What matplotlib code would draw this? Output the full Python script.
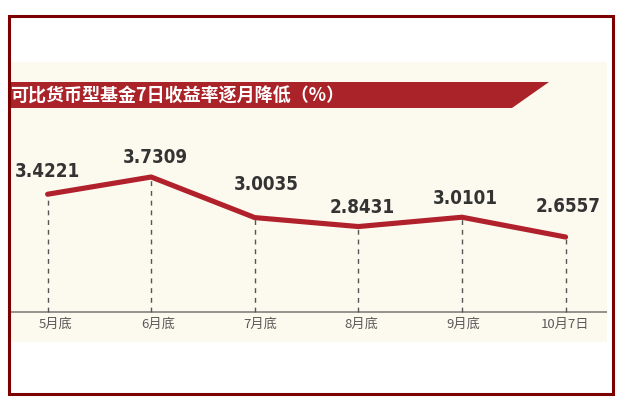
import matplotlib.pyplot as plt
from matplotlib.patches import Rectangle, Polygon

# data
categories = ["5月底", "6月底", "7月底", "8月底", "9月底", "10月7日"]
values = [3.4221, 3.7309, 3.0035, 2.8431, 3.0101, 2.6557]
value_labels = ["3.4221", "3.7309", "3.0035", "2.8431", "3.0101", "2.6557"]
title = "可比货币型基金7日收益率逐月降低（%）"

# layout (pixels)
W, H = 634, 402
label_dx = [0, 4, 11, 4, 3, 3]
label_dy = [24, 21, 34, 20, 20, 32]
tick_dx = [8, 7, 5, 3, 1, -1]
base = 1.31  # value where the x axis line sits

RED = "#b0212b"
CREAM = "#fcf9ee"
FRAME = "#7d0000"

fig = plt.figure(figsize=(W / 100, H / 100), dpi=100)
fig.patch.set_facecolor("white")

# background layer in pixel coordinates
bg = fig.add_axes([0, 0, 1, 1], zorder=0)
bg.set_xlim(0, W)
bg.set_ylim(H, 0)
bg.axis("off")
bg.add_patch(Rectangle((10, 63), 597, 280, facecolor=CREAM, edgecolor="none"))
bg.add_patch(Polygon([(8, 83), (549, 83), (512, 109), (8, 109)],
                     closed=True, facecolor="#a92328", edgecolor="none"))
bg.text(10, 96.5, title, color="white", fontsize=13, fontweight="bold",
        family=["Noto Sans CJK SC", "DejaVu Sans"], ha="left", va="center")

# chart layer
ax = fig.add_axes([10 / W, (H - 343) / H, 597 / W, 280 / H], zorder=1)
ax.set_facecolor("none")
x = list(range(len(values)))
ax.set_xlim(-0.363, 5.40)
ax.set_ylim(0.774, 5.792)
ax.axis("off")

ax.axhline(base, color="#8a8a84", lw=1.3, zorder=1)
ax.vlines(x, base, values, colors="#555555", lw=1.0,
          linestyles=(0, (3.5, 3.5)), zorder=2)
ax.plot(x, values, color=RED, lw=3.7, solid_capstyle="round",
        solid_joinstyle="round", zorder=3)

for i, v in enumerate(values):
    ax.annotate(value_labels[i], (x[i], v), xytext=(label_dx[i], label_dy[i]),
                textcoords="offset pixels", ha="center", va="center",
                fontsize=13.5, fontweight="bold", fontstretch="condensed",
                color="#333333", family=["DejaVu Sans"])
    ax.annotate(categories[i], (x[i], base), xytext=(tick_dx[i], -11),
                textcoords="offset pixels", ha="center", va="center",
                fontsize=9.5, color="#5a5a5a",
                family=["Noto Sans CJK SC", "DejaVu Sans"])

# outer frame on top of everything
fig.add_artist(Rectangle((8.5, 16.5), 604, 378, transform=bg.transData,
                         facecolor="none", edgecolor=FRAME, lw=2.2, zorder=10))

fig.savefig("out.png", dpi=100, facecolor=fig.get_facecolor())
